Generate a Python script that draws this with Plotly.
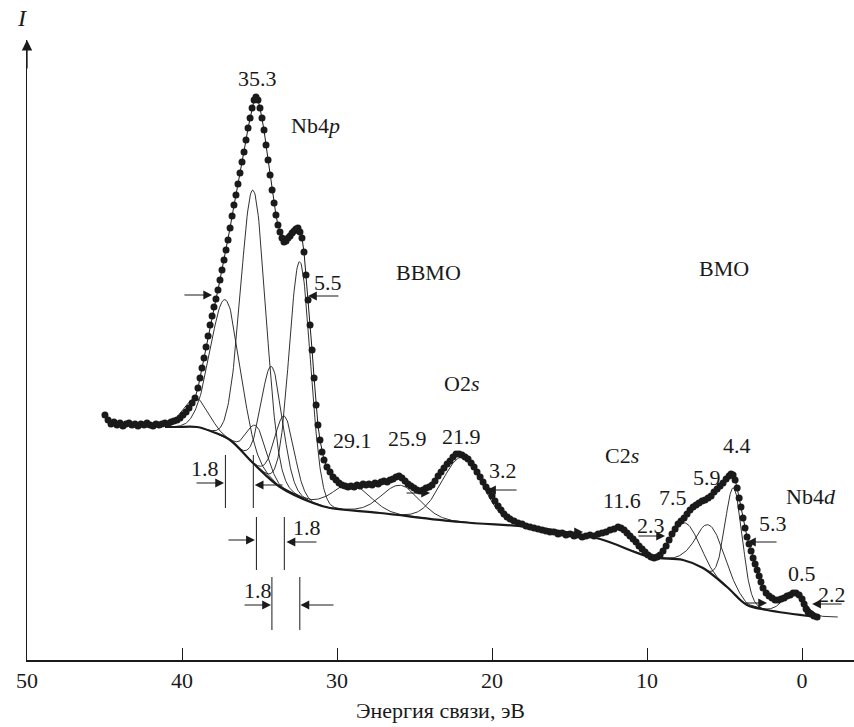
import numpy as np
import plotly.graph_objects as go

# ---------------- data ----------------
# measured spectrum: binding energy (eV) and intensity (arb. units)
energy = [44.97, 44.77, 44.58, 44.39, 44.19, 44.00, 43.81, 43.61, 43.42, 43.23, 43.03, 42.84, 42.65, 42.45,
          42.26, 42.06, 41.87, 41.68, 41.48, 41.29, 41.10, 40.90, 40.71, 40.52, 40.32, 40.13, 39.94, 39.74,
          39.55, 39.35, 39.16, 38.97, 38.84, 38.71, 38.58, 38.45, 38.32, 38.19, 38.06, 37.94, 37.81, 37.68,
          37.55, 37.42, 37.29, 37.16, 37.03, 36.90, 36.77, 36.65, 36.52, 36.39, 36.26, 36.13, 36.00, 35.87,
          35.74, 35.61, 35.48, 35.35, 35.23, 35.10, 34.97, 34.84, 34.71, 34.58, 34.45, 34.32, 34.19, 34.06,
          33.94, 33.81, 33.68, 33.55, 33.42, 33.29, 33.16, 33.03, 32.90, 32.77, 32.65, 32.52, 32.39, 32.26,
          32.13, 32.00, 31.87, 31.74, 31.61, 31.48, 31.35, 31.23, 31.10, 30.97, 30.84, 30.65, 30.45, 30.26,
          30.06, 29.87, 29.68, 29.48, 29.29, 29.10, 28.90, 28.71, 28.52, 28.32, 28.13, 27.94, 27.74, 27.55,
          27.35, 27.16, 26.97, 26.77, 26.58, 26.39, 26.19, 26.00, 25.81, 25.61, 25.42, 25.23, 25.03, 24.84,
          24.65, 24.45, 24.26, 24.06, 23.87, 23.68, 23.48, 23.29, 23.10, 22.90, 22.71, 22.52, 22.32, 22.13,
          21.94, 21.74, 21.55, 21.35, 21.16, 20.97, 20.77, 20.58, 20.39, 20.19, 20.00, 19.81, 19.61, 19.42,
          19.23, 19.03, 18.84, 18.58, 18.32, 18.06, 17.81, 17.55, 17.29, 17.03, 16.77, 16.52, 16.26, 16.00,
          15.74, 15.48, 15.23, 14.97, 14.71, 14.45, 14.19, 13.94, 13.68, 13.42, 13.16, 12.90, 12.65, 12.39,
          12.13, 11.87, 11.68, 11.48, 11.29, 11.10, 10.90, 10.71, 10.52, 10.32, 10.13, 9.94, 9.74, 9.55,
          9.35, 9.16, 8.97, 8.77, 8.58, 8.39, 8.19, 8.00, 7.81, 7.61, 7.42, 7.23, 7.03, 6.84, 6.65, 6.45,
          6.26, 6.06, 5.87, 5.68, 5.48, 5.29, 5.10, 4.90, 4.71, 4.58, 4.45, 4.32, 4.19, 4.06, 3.94, 3.81,
          3.68, 3.55, 3.42, 3.29, 3.16, 3.03, 2.90, 2.77, 2.65, 2.52, 2.32, 2.13, 1.94, 1.74, 1.55, 1.35,
          1.16, 0.97, 0.77, 0.58, 0.39, 0.19, 0.00, -0.13, -0.26, -0.39, -0.58, -0.77, -0.97]
intensity = [245, 240, 236, 238, 235, 237, 234, 236, 237, 235, 236, 234, 236, 235,
             237, 235, 234, 236, 235, 236, 237, 236, 238, 239, 240, 242, 245, 248,
             252, 257, 262, 272, 282, 292, 302, 313, 324, 335, 344, 353, 361, 370,
             380, 390, 400, 410, 420, 432, 444, 455, 465, 476, 487, 498, 508, 520,
             532, 542, 552, 560, 563, 560, 552, 542, 530, 515, 500, 485, 470, 457,
             445, 435, 428, 422, 418, 419, 422, 424, 427, 429, 431, 432, 428, 422,
             408, 385, 360, 335, 310, 282, 255, 235, 220, 208, 200, 193, 188, 183,
             180, 177, 175, 174, 173, 174, 173, 175, 174, 176, 175, 176, 175, 177,
             176, 178, 179, 178, 180, 181, 183, 184, 182, 179, 176, 174, 172, 170,
             169, 170, 172, 173, 175, 179, 184, 188, 192, 196, 199, 203, 206, 206,
             205, 203, 201, 197, 193, 188, 183, 178, 173, 169, 164, 159, 154, 150,
             146, 143, 141, 139, 137, 136, 134, 133, 132, 131, 130, 129, 128, 128,
             126, 127, 125, 126, 124, 125, 123, 124, 125, 124, 126, 127, 128, 130,
             131, 133, 132, 130, 127, 124, 121, 118, 114, 111, 108, 105, 103, 102,
             103, 105, 109, 114, 120, 126, 131, 136, 139, 142, 146, 150, 153, 155, 157, 159,
             160, 162, 164, 168, 171, 174, 177, 181, 184, 186, 185, 180, 172, 162, 153, 142,
             132, 123, 116, 109, 102, 96, 90, 84, 78, 72, 67, 64, 62, 60, 60, 61,
             62, 64, 65, 67, 67, 65, 61, 56, 51, 48, 46, 44, 43]

# background line
bg_energy = [41.10, 40.32, 39.03, 38.00, 36.90, 35.42, 33.68, 31.55, 30.45, 27.23, 22.06,
             16.90, 13.03, 9.81, 7.68, 6.39, 4.84, 3.55, 2.26, -0.97]
bg_intensity = [233, 233, 233, 228, 220, 197, 173, 157, 152, 147, 138,
                132, 121, 103, 100, 92, 73, 55, 50, 43]

# fitted components: centre (eV), height above background, sigma (eV)
comp_center = [39.1, 37.2, 35.4, 35.2, 34.2, 33.4, 32.4, 29.1, 25.9, 21.9, 11.6, 7.5, 5.9, 4.4, 0.5]
comp_height = [29, 138, 273, 40, 113, 73, 235, 26, 30, 65, 17, 38, 48, 105, 20]
comp_sigma = [0.8, 0.95, 0.8, 0.62, 0.68, 0.62, 0.68, 1.2, 1.2, 1.3, 0.9, 0.85, 0.9, 0.55, 0.7]

# spin-orbit doublets (indices into components), split 1.8 eV
doublets = [(1, 2), (3, 5), (4, 6)]

FONT = "Liberation Serif"
INK = "#1a1a1a"
FS = 22

fig = go.Figure()

bg_e_inc = np.array(bg_energy[::-1])
bg_i_inc = np.array(bg_intensity[::-1])

for c, h, s in zip(comp_center, comp_height, comp_sigma):
    e = np.linspace(c - 4 * s, c + 4 * s, 161)
    base = np.interp(e, bg_e_inc, bg_i_inc)
    y = base + h * np.exp(-0.5 * ((e - c) / s) ** 2)
    fig.add_trace(go.Scatter(x=e, y=y, mode="lines",
                             line=dict(color=INK, width=0.9), hoverinfo="skip"))

fig.add_trace(go.Scatter(x=bg_energy, y=bg_intensity, mode="lines",
                         line=dict(color=INK, width=2.2, shape="spline", smoothing=1.0)))

fig.add_trace(go.Scatter(x=energy, y=intensity, mode="lines+markers",
                         line=dict(color=INK, width=1),
                         marker=dict(color=INK, size=7, line=dict(width=0))))

# ---------------- annotations ----------------
def txt(x, y, s, size=FS):
    fig.add_annotation(x=x, y=y, text=s, showarrow=False,
                       font=dict(family=FONT, size=size, color=INK))

labels = [
    (35.16, 582, "35.3"), (31.4, 535, "Nb4<i>p</i>"), (24.13, 388, "BBMO"), (5.03, 392, "BMO"),
    (30.58, 378, "5.5"), (21.94, 277, "O2<i>s</i>"), (28.97, 220, "29.1"), (25.48, 222, "25.9"),
    (21.94, 224, "21.9"), (19.29, 190, "3.2"), (11.61, 205, "C2<i>s</i>"), (11.61, 160, "11.6"),
    (8.32, 163, "7.5"), (6.13, 183, "5.9"), (4.19, 215, "4.4"), (-0.55, 164, "Nb4<i>d</i>"),
    (9.74, 135, "2.3"), (1.87, 137, "5.3"), (0.0, 87, "0.5"), (-1.94, 66, "2.2"),
    (38.52, 192, "1.8"), (31.94, 133, "1.8"), (35.10, 70, "1.8"),
]
for x, y, s in labels:
    txt(x, y, s)

# axis name "I"
fig.add_annotation(x=-0.006, y=1.035, xref="paper", yref="paper", text="<i>I</i>",
                   xanchor="center", yanchor="middle",
                   showarrow=False, font=dict(family=FONT, size=24, color=INK))

# width arrows: (tail E, tip E, intensity)
arrows = [
    (39.94, 38.06, 365), (29.81, 31.87, 364),
    (39.16, 37.29, 177), (33.42, 35.31, 175),
    (37.10, 35.30, 120), (31.23, 33.26, 118),
    (36.06, 34.26, 55), (30.13, 32.36, 55),
    (18.32, 20.32, 170), (25.61, 24.0, 167),
    (15.16, 14.13, 128), (10.65, 8.84, 124),
    (1.55, 3.55, 118), (3.81, 2.26, 57), (-2.65, -0.65, 56),
]
for tail, tip, yv in arrows:
    fig.add_annotation(x=tip, y=yv, ax=tail, ay=yv, xref="x", yref="y", axref="x", ayref="y",
                       showarrow=True, arrowhead=2, arrowsize=1.6, arrowwidth=1.1,
                       arrowcolor=INK, text="")

# vertical markers of doublet positions
marker_rows = [(152, 205), (90, 143), (30, 83)]
for (a, b), (y0, y1) in zip(doublets, marker_rows):
    for idx in (a, b):
        fig.add_shape(type="line", x0=comp_center[idx], x1=comp_center[idx], y0=y0, y1=y1,
                      xref="x", yref="y", line=dict(color=INK, width=1))

# y axis arrow head
fig.add_annotation(x=50, y=620, ax=50, ay=590, xref="x", yref="y", axref="x", ayref="y",
                   showarrow=True, arrowhead=2, arrowsize=1.6, arrowwidth=1.3,
                   arrowcolor=INK, text="")

fig.update_layout(
    width=854, height=727,
    margin=dict(l=27, r=0, t=40, b=67),
    paper_bgcolor="white", plot_bgcolor="white",
    showlegend=False,
    font=dict(family=FONT, size=FS, color=INK),
    xaxis=dict(range=[50, -3.35], showgrid=False, zeroline=False,
               showline=True, linecolor=INK, linewidth=1.6,
               tickvals=[50, 40, 30, 20, 10, 0], ticktext=["50", "40", "30", "20", "10", "0"],
               ticks="inside", ticklen=12, tickwidth=1, tickcolor=INK,
               tickfont=dict(family=FONT, size=FS, color=INK),
               title=dict(text="Энергия связи, эВ", standoff=10,
                          font=dict(family=FONT, size=FS, color=INK))),
    yaxis=dict(range=[0, 620], showgrid=False, zeroline=False,
               showline=True, linecolor=INK, linewidth=1.4,
               showticklabels=False, ticks=""),
)

fig.write_html("out.html")
